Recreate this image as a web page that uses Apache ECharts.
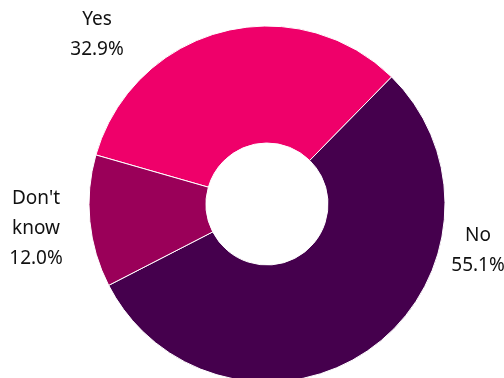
<!DOCTYPE html>
<html>
<head>
<meta charset="utf-8">
<style>
  html, body { margin: 0; padding: 0; background: #ffffff; }
  #chart { width: 504px; height: 378px; }
</style>
<script src="https://cdn.jsdelivr.net/npm/echarts@6/dist/echarts.min.js"></script>
</head>
<body>
<div id="chart"></div>
<script>
// Survey answers and their shares (%)
const categories = ['Yes', 'No', "Don't know"];
const shares = [32.9, 55.1, 12.0];
const labelText = ['Yes\n32.9%', 'No\n55.1%', "Don't\nknow\n12.0%"];
const sliceColors = ['#EF006A', '#45004D', '#9A0059'];

// Label anchors (label centres) beside the ring
const labelAnchors = [[97, 35], [478, 251], [36, 229]];

const chart = echarts.init(document.getElementById('chart'), null, { renderer: 'canvas' });

chart.setOption({
  animation: false,
  backgroundColor: '#ffffff',
  series: [{
    type: 'pie',
    center: [267, 204],
    radius: [61, 178],
    startAngle: 164,
    clockwise: true,
    avoidLabelOverlap: false,
    data: categories.map((name, i) => ({
      name: name,
      value: shares[i],
      itemStyle: { color: sliceColors[i] },
      label: { formatter: labelText[i] }
    })),
    itemStyle: { borderColor: '#ffffff', borderWidth: 1 },
    label: {
      show: true,
      position: 'outside',
      color: '#111111',
      fontFamily: 'Noto Sans',
      fontSize: 19,
      lineHeight: 30,
      align: 'center',
      verticalAlign: 'middle'
    },
    labelLine: { show: false },
    labelLayout: function (params) {
      const p = labelAnchors[params.dataIndex];
      return { x: p[0], y: p[1], align: 'center', verticalAlign: 'middle' };
    },
    emphasis: { disabled: true }
  }]
});
</script>
</body>
</html>
